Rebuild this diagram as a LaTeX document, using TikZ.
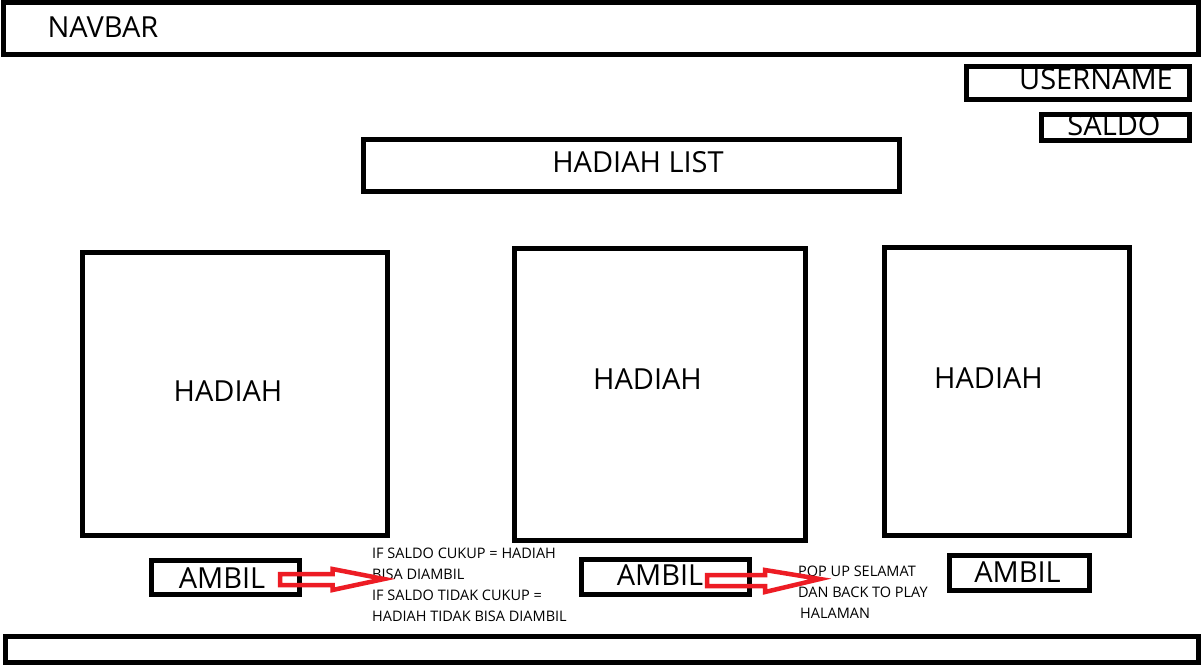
\documentclass[tikz,border=0pt]{standalone}
\usepackage{fontspec}
\setmainfont{Open Sans}
\usetikzlibrary{positioning}
\definecolor{paintred}{RGB}{237,28,36}
\tikzset{
  frame/.style={
    draw, rectangle, line width=5pt,
    inner sep=0pt, outer sep=0pt
  },
  bigtext/.style={font=\fontsize{29}{34}\selectfont, inner sep=0pt},
  note/.style={
    font=\fontsize{14.5}{21}\selectfont, align=left,
    inner sep=0pt, text=black
  },
  hollowarrow/.style={draw=paintred, line width=4.5pt, line join=miter}
}

\begin{document}
\begin{tikzpicture}[x=1pt, y=-1pt]
  \fill[white] (0,0) rectangle (1202,665);
  \useasboundingbox (0,0) rectangle (1202,665);

  % Header
  \node[frame, minimum width=1194.5pt, minimum height=52pt] (navbar) at (600.75,28.5) {};
  \node[bigtext] (navbarlbl) at (103,27) {NAVBAR};
  \node[frame, minimum width=223pt, minimum height=33pt] (user) at (1078,83) {};
  \node[bigtext] (userlbl) at (1096,79) {USERNAME};
  \node[frame, minimum width=148pt, minimum height=26pt] (saldo) at (1115.5,127.5) {};
  \node[bigtext] (saldolbl) at (1114,125.5) {SALDO};

  % Title
  \node[frame, minimum width=536pt, minimum height=52pt] (list) at (631.5,165.5) {};
  \node[bigtext] (listlbl) at (638,162) {HADIAH LIST};

  % Prize cards
  \node[frame, minimum width=305pt, minimum height=282.5pt] (prizeA) at (235,393.75) {};
  \node[bigtext] (prizeAlbl) at (228,391) {HADIAH};
  \node[frame, minimum width=291pt, minimum height=292pt] (prizeB) at (660,394.5) {};
  \node[bigtext] (prizeBlbl) at (647.5,379) {HADIAH};
  \node[frame, minimum width=245pt, minimum height=287.5pt] (prizeC) at (1007,391.25) {};
  \node[bigtext] (prizeClbl) at (988.5,378) {HADIAH};

  % Take buttons
  \node[frame, minimum width=148pt, minimum height=34pt] (takeA) at (225.5,577.5) {};
  \node[bigtext] (takeAlbl) at (222,578) {AMBIL};
  \node[frame, minimum width=168pt, minimum height=35pt] (takeB) at (665.5,577) {};
  \node[bigtext] (takeBlbl) at (660,575) {AMBIL};
  \node[frame, minimum width=140pt, minimum height=35.5pt] (takeC) at (1019.5,572.75) {};
  \node[bigtext] (takeClbl) at (1017.5,572) {AMBIL};

  % Notes
  \node[note, anchor=north west] (noteA) at (372,548)
    {IF SALDO CUKUP = HADIAH\\BISA DIAMBIL\\IF SALDO TIDAK CUKUP =\\HADIAH TIDAK BISA DIAMBIL};
  \node[note, anchor=north west] (noteB) at (798,566)
    {POP UP SELAMAT\\DAN BACK TO PLAY\\\hspace*{2pt}HALAMAN};

  % Red arrows
  \draw[hollowarrow] (280,574) -- (332.5,574) -- (332.5,569) -- (384,579)
    -- (332.5,590) -- (332.5,585) -- (280,585) -- cycle;
  \draw[hollowarrow] (707,575) -- (765,575) -- (765,570) -- (820,579)
    -- (765,592) -- (765,586) -- (707,586) -- cycle;

  % Footer
  \node[frame, minimum width=1192.5pt, minimum height=26pt] (footer) at (601.75,649.5) {};
\end{tikzpicture}
\end{document}
